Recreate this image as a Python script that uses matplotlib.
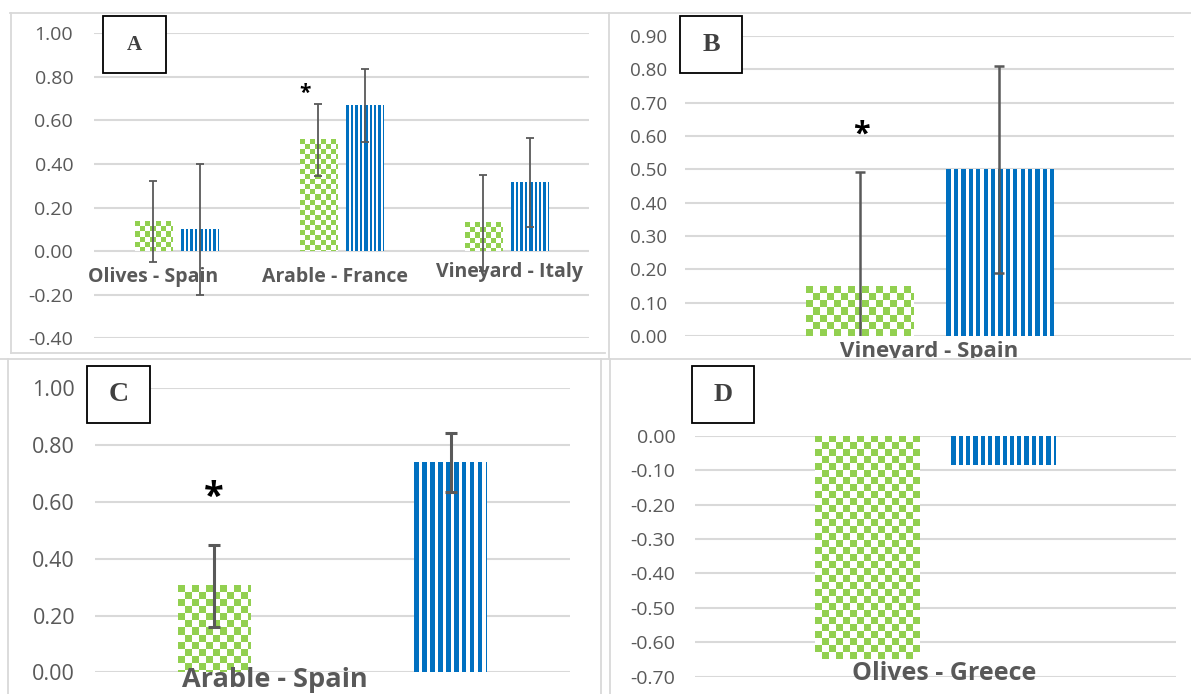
import numpy as np
import matplotlib
matplotlib.use("Agg")
import matplotlib.pyplot as plt
from matplotlib.ticker import FormatStrFormatter
from matplotlib.patches import Rectangle
from matplotlib.lines import Line2D
from matplotlib.transforms import Bbox

# Panel A: three sites
cats_a = ["Olives - Spain", "Arable - France", "Vineyard - Italy"]
green_a = [0.135, 0.51, 0.13]
green_err_a = [0.185, 0.167, 0.22]
blue_a = [0.10, 0.667, 0.316]
blue_err_a = [0.30, 0.167, 0.205]
ticks_a = [-0.4, -0.2, 0.0, 0.2, 0.4, 0.6, 0.8, 1.0]

# Panel B
cat_b = "Vineyard - Spain"
green_b = [0.148]
green_err_b = [0.345]
blue_b = [0.50]
blue_err_b = [0.31]
ticks_b = [0.0, 0.1, 0.2, 0.3, 0.4, 0.5, 0.6, 0.7, 0.8, 0.9]

# Panel C
cat_c = "Arable - Spain"
green_c = [0.304]
green_err_c = [0.145]
blue_c = [0.738]
blue_err_c = [0.103]
ticks_c = [0.0, 0.2, 0.4, 0.6, 0.8, 1.0]

# Panel D
cat_d = "Olives - Greece"
green_d = [-0.65]
blue_d = [-0.085]
ticks_d = [-0.7, -0.6, -0.5, -0.4, -0.3, -0.2, -0.1, 0.0]

W, H = 1191, 694
GREEN = (0x92 / 255, 0xd0 / 255, 0x50 / 255)
BLUE = (0x00 / 255, 0x70 / 255, 0xc0 / 255)
GRAY = "#595959"
BORDER = "#d9d9d9"

plt.rcParams["font.family"] = ["Open Sans", "DejaVu Sans"]
plt.rcParams["axes.unicode_minus"] = False

fig = plt.figure(figsize=(W / 100, H / 100), dpi=100)


def box(x0, y0, x1, y1):
    # pixel box (top-left origin) -> figure fraction
    return [x0 / W, 1 - y1 / H, (x1 - x0) / W, (y1 - y0) / H]


def style(ax, ticks, ylim, xlim, size, pad):
    ax.set_xlim(*xlim)
    ax.set_ylim(*ylim)
    ax.set_yticks(ticks)
    ax.yaxis.set_major_formatter(FormatStrFormatter("%.2f"))
    for s in ax.spines.values():
        s.set_visible(False)
    ax.set_xticks([])
    ax.tick_params(axis="y", length=0, pad=pad, labelsize=size, labelcolor=GRAY)
    ax.grid(axis="y", color=BORDER, lw=1.5)
    ax.set_axisbelow(True)
    ax.set_facecolor("none")


def fill(ax, bars, kind, size):
    # Excel-like pattern fills, drawn pixel by pixel inside each bar
    for bar in bars:
        x0, x1 = bar.get_x(), bar.get_x() + bar.get_width()
        y0, y1 = sorted([bar.get_y(), bar.get_y() + bar.get_height()])
        (px0, py0), (px1, py1) = ax.transData.transform([(x0, y0), (x1, y1)])
        nx = max(int(round(px1 - px0)), 1)
        ny = max(int(round(py1 - py0)), 1)
        rows, cols = np.indices((ny, nx))
        img = np.ones((ny, nx, 3))
        if kind == "check":
            on = (rows // size + cols // size) % 2 == 0
            img[on] = GREEN
        else:
            on = (cols % size) < size * 0.58
            img[on] = BLUE
        ax.imshow(img, extent=(x0, x1, y0, y1), aspect="auto",
                  interpolation="nearest", zorder=2.5)


def bars(ax, x, green, blue, width, off, cell, period,
         green_err=None, blue_err=None, ew=1.3, cap=3.2):
    x = np.asarray(x, dtype=float)
    gb = ax.bar(x - off, green, width, color="white", lw=0, zorder=2)
    bb = ax.bar(x + off, blue, width, color="white", lw=0, zorder=2)
    fill(ax, gb, "check", cell)
    fill(ax, bb, "stripe", period)
    if green_err is not None:
        ax.errorbar(x - off, green, yerr=green_err, fmt="none", ecolor=GRAY,
                    elinewidth=ew, capsize=cap, capthick=ew, zorder=3)
        ax.errorbar(x + off, blue, yerr=blue_err, fmt="none", ecolor=GRAY,
                    elinewidth=ew, capsize=cap, capthick=ew, zorder=3)


def letter(x0, y0, x1, y1, s, size):
    fig.add_artist(Rectangle((x0 / W, 1 - y1 / H), (x1 - x0) / W, (y1 - y0) / H,
                             transform=fig.transFigure, facecolor="white",
                             edgecolor="black", lw=1.3, zorder=5))
    fig.text((x0 + x1) / 2 / W, 1 - (y0 + y1) / 2 / H, s, ha="center", va="center",
             fontsize=size, fontweight="bold", family="Liberation Serif",
             color="#404040", zorder=6)


def line(x0, y0, x1, y1):
    fig.add_artist(Line2D([x0 / W, x1 / W], [1 - y0 / H, 1 - y1 / H],
                          transform=fig.transFigure, color=BORDER, lw=1.3))


# panel borders
line(10, 12.5, 1191, 12.5)
line(11, 12.5, 11, 353)
line(11, 353, 605, 353)
line(609, 12.5, 609, 358.5)
line(0, 358.5, 1191, 358.5)
line(8, 358.5, 8, 694)
line(601, 358.5, 601, 694)
line(610, 358.5, 610, 694)

# ---- A ----
ax_a = fig.add_axes(box(94, 33.3, 589, 338.3))
style(ax_a, ticks_a, (-0.4, 1.0), (-0.5, 2.5), 14, 15)
xa = np.arange(len(cats_a))
bars(ax_a, xa, green_a, blue_a, 0.225, 0.142, 5, 4.4, green_err_a, blue_err_a)
for i, (c, dx, y) in enumerate(zip(cats_a, [-0.14, -0.04, 0.02], [-0.142, -0.142, -0.12])):
    ax_a.text(i + dx, y, c, ha="center", va="baseline", fontsize=14,
              fontweight="bold", color=GRAY, zorder=4)
ax_a.text(1 - 0.22, 0.725, "*", ha="center", va="center", fontsize=15,
          fontweight="bold", color="black", zorder=4)
letter(103, 16, 166, 73, "A", 15)

# ---- B ----
ax_b = fig.add_axes(box(685, 36, 1174, 336))
style(ax_b, ticks_b, (0, 0.9), (-0.5, 0.5), 13.5, 13)
bars(ax_b, [0], green_b, blue_b, 0.22, 0.143, 7, 7.4, green_err_b, blue_err_b,
     ew=1.8, cap=3.4)
t = ax_b.text(0, -0.063, cat_b, ha="center", va="baseline", fontsize=16,
              fontweight="bold", color=GRAY, clip_on=True)
t.set_clip_box(Bbox.from_extents(600, H - 358, W, H))
ax_b.text(-0.139, 0.605, "*", ha="center", va="center", fontsize=22,
          fontweight="bold", color="black", zorder=4)
letter(680, 16, 742, 73, "B", 19)

# ---- C ----
ax_c = fig.add_axes(box(94.5, 388.3, 570.2, 672.3))
style(ax_c, ticks_c, (0, 1.0), (-0.5, 0.5), 15.5, 14)
bars(ax_c, [0], green_c, blue_c, 0.153, 0.249, 7, 7.9, green_err_c, blue_err_c,
     ew=2.2, cap=4.0)
ax_c.text(-0.12, -0.051, cat_c, ha="center", va="baseline", fontsize=19.5,
          fontweight="bold", color=GRAY)
ax_c.text(-0.25, 0.615, "*", ha="center", va="center", fontsize=26,
          fontweight="bold", color="black", zorder=4)
letter(87, 366, 150, 423, "C", 20)

# ---- D ----
ax_d = fig.add_axes(box(695, 435.7, 1175.6, 676.7))
style(ax_d, ticks_d, (-0.7, 0), (-0.5, 0.5), 14, 14)
bars(ax_d, [0], green_d, blue_d, 0.218, 0.142, 7, 7.3)
ax_d.text(0.019, -0.709, cat_d, ha="center", va="baseline", fontsize=18,
          fontweight="bold", color=GRAY, zorder=4)
letter(692, 366, 754.5, 423, "D", 19)

fig.savefig("out.png", dpi=100)
